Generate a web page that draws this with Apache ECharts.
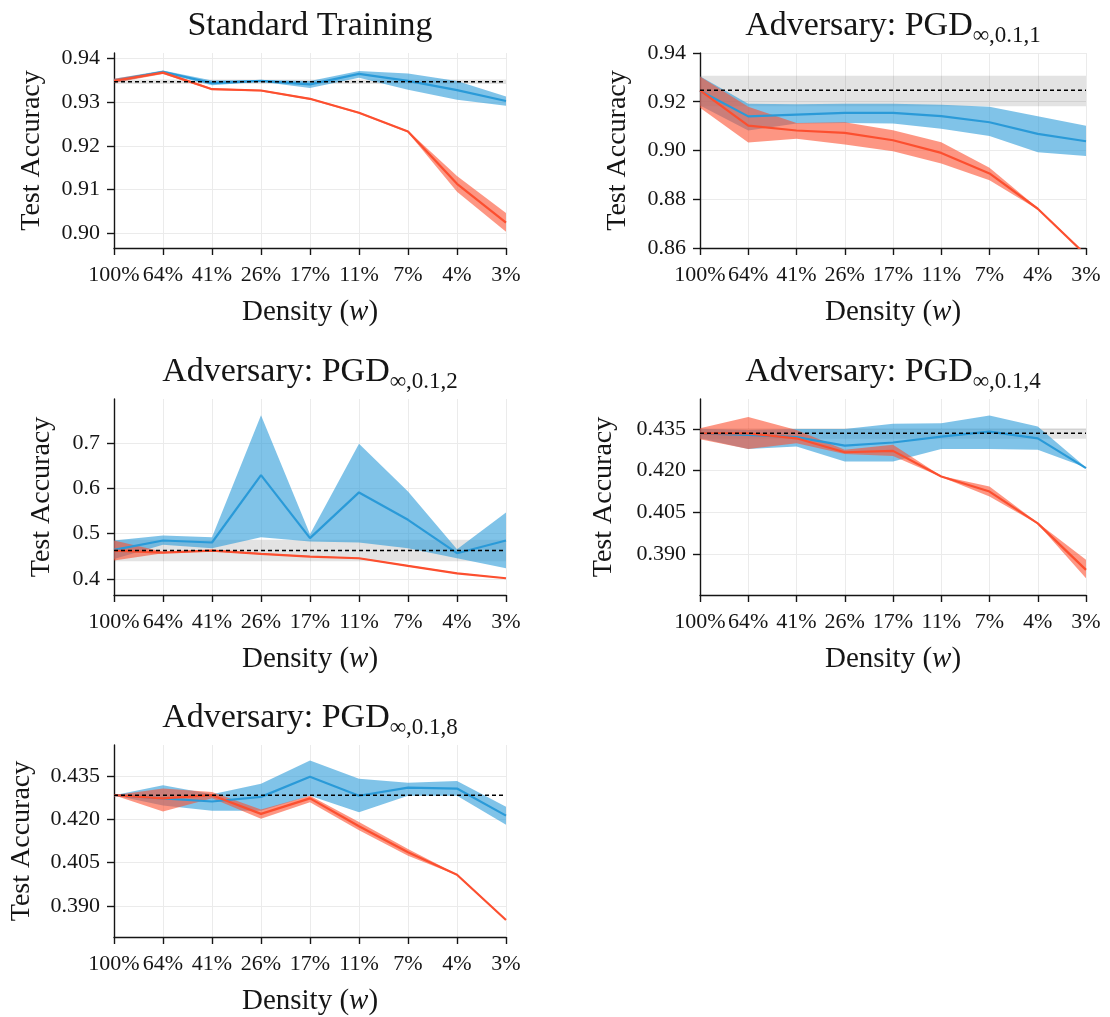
<!DOCTYPE html>
<html>
<head>
<meta charset="utf-8">
<title>Test accuracy vs density</title>
<script src="https://cdn.jsdelivr.net/npm/echarts@6/dist/echarts.min.js"></script>
<style>
  html, body { margin: 0; padding: 0; background: #fff; }
  #chart { width: 1110px; height: 1017px; }
</style>
</head>
<body>
<div id="chart"></div>
<script>
// Density levels shared by every panel
const densities = ['100%', '64%', '41%', '26%', '17%', '11%', '7%', '4%', '3%'];

// Standard training
const stdBlueMean = [0.9349, 0.9370, 0.9344, 0.9349, 0.9341, 0.9365, 0.9349, 0.9328, 0.9303];
const stdBlueLo   = [0.9345, 0.9367, 0.9339, 0.9347, 0.9333, 0.9356, 0.9329, 0.9306, 0.9292];
const stdBlueHi   = [0.9354, 0.9373, 0.9350, 0.9351, 0.9349, 0.9372, 0.9366, 0.9349, 0.9313];
const stdRedMean  = [0.9349, 0.9368, 0.9330, 0.9327, 0.9308, 0.9276, 0.9233, 0.9113, 0.9024];
const stdRedLo    = [0.9344, 0.9365, 0.9328, 0.9325, 0.9306, 0.9274, 0.9231, 0.9095, 0.9003];
const stdRedHi    = [0.9354, 0.9371, 0.9332, 0.9329, 0.9310, 0.9278, 0.9235, 0.9131, 0.9046];
const stdBase = [0.9342, 0.9347, 0.9352];      // lower, mean, upper of the dense reference
const stdTicks = [0.90, 0.91, 0.92, 0.93, 0.94];

// PGD inf, 0.1, 1
const pgd1BlueMean = [0.9245, 0.9140, 0.9147, 0.9154, 0.9154, 0.9141, 0.9116, 0.9068, 0.9038];
const pgd1BlueLo   = [0.9185, 0.9082, 0.9111, 0.9113, 0.9111, 0.9089, 0.9059, 0.8993, 0.8977];
const pgd1BlueHi   = [0.9305, 0.9192, 0.9190, 0.9192, 0.9192, 0.9188, 0.9179, 0.9141, 0.9102];
const pgd1RedMean  = [0.9247, 0.9102, 0.9082, 0.9072, 0.9042, 0.8990, 0.8906, 0.8761, 0.8571];
const pgd1RedLo    = [0.9175, 0.9033, 0.9048, 0.9025, 0.8997, 0.8947, 0.8878, 0.8758, 0.8568];
const pgd1RedHi    = [0.9304, 0.9180, 0.9113, 0.9116, 0.9083, 0.9034, 0.8929, 0.8764, 0.8574];
const pgd1Base = [0.9182, 0.9247, 0.9307];
const pgd1Ticks = [0.86, 0.88, 0.90, 0.92, 0.94];

// PGD inf, 0.1, 2
const pgd2BlueMean = [0.4640, 0.4848, 0.4804, 0.6292, 0.4900, 0.5909, 0.5305, 0.4568, 0.4848];
const pgd2BlueLo   = [0.4440, 0.4752, 0.4680, 0.4921, 0.4826, 0.4804, 0.4680, 0.4458, 0.4237];
const pgd2BlueHi   = [0.4850, 0.4958, 0.4921, 0.7612, 0.4988, 0.6985, 0.5931, 0.4656, 0.5467];
const pgd2RedMean  = [0.4627, 0.4583, 0.4627, 0.4553, 0.4494, 0.4457, 0.4288, 0.4125, 0.4015];
const pgd2RedLo    = [0.4406, 0.4565, 0.4612, 0.4540, 0.4482, 0.4445, 0.4276, 0.4113, 0.4003];
const pgd2RedHi    = [0.4848, 0.4600, 0.4642, 0.4566, 0.4506, 0.4469, 0.4300, 0.4137, 0.4027];
const pgd2Base = [0.4391, 0.4627, 0.4863];
const pgd2Ticks = [0.4, 0.5, 0.6, 0.7];

// PGD inf, 0.1, 4
const pgd4BlueMean = [0.4334, 0.4328, 0.4320, 0.4290, 0.4301, 0.4322, 0.4340, 0.4316, 0.4209];
const pgd4BlueLo   = [0.4316, 0.4278, 0.4287, 0.4233, 0.4233, 0.4278, 0.4278, 0.4275, 0.4207];
const pgd4BlueHi   = [0.4350, 0.4346, 0.4349, 0.4349, 0.4368, 0.4370, 0.4398, 0.4358, 0.4211];
const pgd4RedMean  = [0.4334, 0.4334, 0.4316, 0.4266, 0.4271, 0.4179, 0.4125, 0.4011, 0.3844];
const pgd4RedLo    = [0.4313, 0.4278, 0.4298, 0.4260, 0.4253, 0.4177, 0.4107, 0.4009, 0.3814];
const pgd4RedHi    = [0.4352, 0.4392, 0.4346, 0.4275, 0.4293, 0.4181, 0.4143, 0.4013, 0.3880];
const pgd4Base = [0.4314, 0.4334, 0.4352];
const pgd4Ticks = [0.390, 0.405, 0.420, 0.435];

// PGD inf, 0.1, 8
const pgd8BlueMean = [0.4284, 0.4273, 0.4262, 0.4278, 0.4348, 0.4282, 0.4310, 0.4307, 0.4213];
const pgd8BlueLo   = [0.4284, 0.4248, 0.4230, 0.4230, 0.4282, 0.4225, 0.4282, 0.4282, 0.4181];
const pgd8BlueHi   = [0.4284, 0.4318, 0.4287, 0.4324, 0.4404, 0.4341, 0.4327, 0.4333, 0.4244];
const pgd8RedMean  = [0.4284, 0.4273, 0.4284, 0.4219, 0.4273, 0.4176, 0.4086, 0.4008, 0.3851];
const pgd8RedLo    = [0.4284, 0.4227, 0.4273, 0.4202, 0.4259, 0.4162, 0.4074, 0.4006, 0.3849];
const pgd8RedHi    = [0.4284, 0.4307, 0.4295, 0.4234, 0.4282, 0.4191, 0.4097, 0.4010, 0.3853];
const pgd8Base = [0.4284, 0.4284, 0.4284];
const pgd8Ticks = [0.390, 0.405, 0.420, 0.435];

const FONT = "'Liberation Serif', 'DejaVu Serif', serif";
const INK = '#151515';
const BLUE = '#2a9ad8';
const BLUE_BAND = 'rgba(43,155,216,0.6)';
const RED = '#fc4f2f';
const RED_BAND = 'rgba(252,80,48,0.6)';
const GREY_BAND = 'rgba(0,0,0,0.11)';

const panels = [
  { title: '{m|Standard Training}', cx: 310, cy: 26,
    grid: { left: 114, top: 53, width: 392, height: 195 },
    yMin: 0.8966, yMax: 0.9413, ticks: stdTicks, dec: 2, nameGap: 68,
    blue: [stdBlueMean, stdBlueLo, stdBlueHi], red: [stdRedMean, stdRedLo, stdRedHi], base: stdBase },
  { title: '{m|Adversary: PGD}{s|∞,0.1,1}', cx: 893, cy: 26,
    grid: { left: 700, top: 53, width: 386, height: 195 },
    yMin: 0.86, yMax: 0.94, ticks: pgd1Ticks, dec: 2, nameGap: 68,
    blue: [pgd1BlueMean, pgd1BlueLo, pgd1BlueHi], red: [pgd1RedMean, pgd1RedLo, pgd1RedHi], base: pgd1Base },
  { title: '{m|Adversary: PGD}{s|∞,0.1,2}', cx: 310, cy: 372,
    grid: { left: 114, top: 399, width: 392, height: 196 },
    yMin: 0.3646, yMax: 0.797, ticks: pgd2Ticks, dec: 1, nameGap: 58,
    blue: [pgd2BlueMean, pgd2BlueLo, pgd2BlueHi], red: [pgd2RedMean, pgd2RedLo, pgd2RedHi], base: pgd2Base },
  { title: '{m|Adversary: PGD}{s|∞,0.1,4}', cx: 893, cy: 372,
    grid: { left: 700, top: 399, width: 386, height: 196 },
    yMin: 0.3754, yMax: 0.4457, ticks: pgd4Ticks, dec: 3, nameGap: 82,
    blue: [pgd4BlueMean, pgd4BlueLo, pgd4BlueHi], red: [pgd4RedMean, pgd4RedLo, pgd4RedHi], base: pgd4Base },
  { title: '{m|Adversary: PGD}{s|∞,0.1,8}', cx: 310, cy: 718,
    grid: { left: 114, top: 745, width: 392, height: 195 },
    yMin: 0.3792, yMax: 0.4458, ticks: pgd8Ticks, dec: 3, nameGap: 78,
    blue: [pgd8BlueMean, pgd8BlueLo, pgd8BlueHi], red: [pgd8RedMean, pgd8RedLo, pgd8RedHi], base: pgd8Base }
];

const axisLineStyle = { color: INK, width: 1.4 };
const gridLineStyle = { color: '#ebebeb', width: 1 };

const grids = [], xAxes = [], yAxes = [], series = [];

// a shaded band: hidden lower edge plus a stacked (upper - lower) area
function band(i, key, lo, hi, color) {
  const common = { type: 'line', xAxisIndex: i, yAxisIndex: i, stack: key + i,
    symbol: 'none', silent: true, lineStyle: { width: 0, opacity: 0 } };
  series.push(Object.assign({}, common, { data: lo }));
  series.push(Object.assign({}, common, {
    data: hi.map((h, k) => +(h - lo[k]).toFixed(6)),
    areaStyle: { color: color, opacity: 1 }
  }));
}
function line(i, data, style) {
  series.push({ type: 'line', xAxisIndex: i, yAxisIndex: i, data: data,
    symbol: 'none', silent: true, lineStyle: style });
}

panels.forEach((p, i) => {
  grids.push(Object.assign({ containLabel: false }, p.grid));
  xAxes.push({
    type: 'category', gridIndex: i, data: densities, boundaryGap: false,
    name: 'Density ({i|w})', nameLocation: 'middle', nameGap: 50,
    nameTextStyle: { fontFamily: FONT, fontSize: 29, color: INK,
      rich: { i: { fontFamily: FONT, fontSize: 29, fontStyle: 'italic', color: INK } } },
    axisLine: { show: true, lineStyle: axisLineStyle },
    axisTick: { show: true, interval: 0, length: 7, lineStyle: axisLineStyle },
    axisLabel: { interval: 0, fontFamily: FONT, fontSize: 22, color: INK, margin: 16 },
    splitLine: { show: true, interval: 0, lineStyle: gridLineStyle }
  });
  yAxes.push({
    type: 'value', gridIndex: i, min: p.yMin, max: p.yMax, scale: true,
    name: 'Test Accuracy', nameLocation: 'middle', nameGap: p.nameGap,
    nameTextStyle: { fontFamily: FONT, fontSize: 28, color: INK },
    axisLine: { show: true, lineStyle: axisLineStyle },
    axisTick: { show: true, length: 7, lineStyle: axisLineStyle, customValues: p.ticks },
    axisLabel: { fontFamily: FONT, fontSize: 22, color: INK, margin: 14,
      customValues: p.ticks, formatter: v => v.toFixed(p.dec) },
    splitLine: { show: true, lineStyle: gridLineStyle }
  });

  const baseLo = densities.map(() => p.base[0]);
  const baseMean = densities.map(() => p.base[1]);
  const baseHi = densities.map(() => p.base[2]);
  band(i, 'g', baseLo, baseHi, GREY_BAND);
  band(i, 'b', p.blue[1], p.blue[2], BLUE_BAND);
  line(i, p.blue[0], { color: BLUE, width: 2.2 });
  band(i, 'r', p.red[1], p.red[2], RED_BAND);
  line(i, p.red[0], { color: RED, width: 2.2 });
  line(i, baseMean, { color: '#000', width: 1.5, type: [4, 3] });
});

const titleRich = {
  m: { fontFamily: FONT, fontSize: 34, lineHeight: 40, fill: INK, color: INK },
  s: { fontFamily: FONT, fontSize: 23, lineHeight: 24, fill: INK, color: INK, padding: [20, 0, 0, 0] }
};

const chart = echarts.init(document.getElementById('chart'), null, { renderer: 'canvas' });
chart.setOption({
  backgroundColor: '#fff',
  animation: false,
  textStyle: { fontFamily: FONT },
  grid: grids,
  xAxis: xAxes,
  yAxis: yAxes,
  series: series,
  graphic: panels.map(p => ({
    type: 'text', x: p.cx, y: p.cy, silent: true,
    style: { text: p.title, rich: titleRich, align: 'center', verticalAlign: 'middle',
      fill: INK, fontFamily: FONT, fontSize: 34 }
  }))
});
</script>
</body>
</html>
